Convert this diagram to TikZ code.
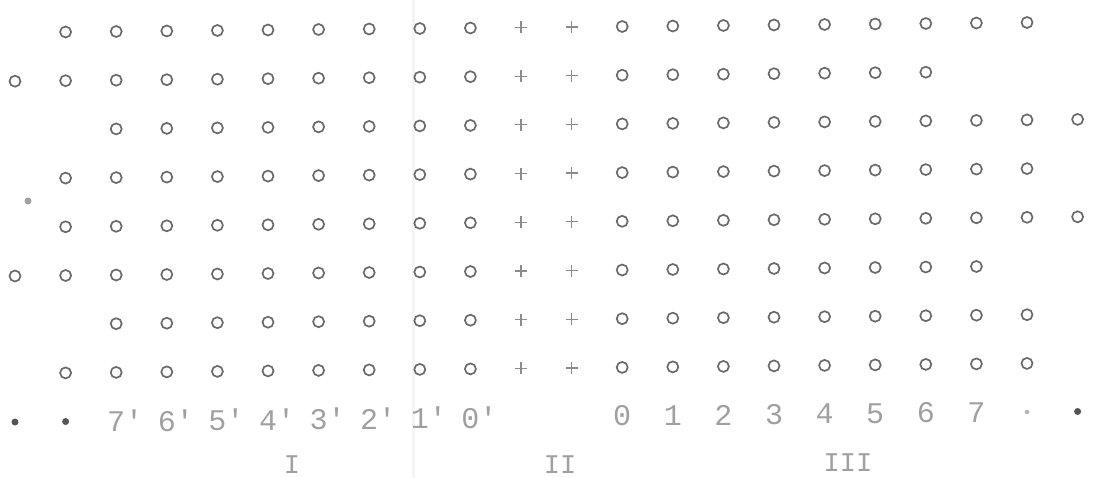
\documentclass[tikz,border=0pt]{standalone}
\usepackage{fontspec}
\setmonofont{Liberation Mono}
\definecolor{ringgray}{HTML}{6A6A6A}
\definecolor{plusgray}{HTML}{8C8C8C}
\definecolor{numgray}{HTML}{A0A0A0}
\definecolor{dotgray}{HTML}{555555}
\definecolor{foldgray}{HTML}{F4F4F4}
\tikzset{
  ring/.style={circle, draw=ringgray, line width=1.7pt, inner sep=0pt, minimum size=11pt},
  plusline/.style={draw=plusgray, line width=1.2pt},
  numtext/.style={text=numgray, font=\ttfamily\fontsize{30}{30}\selectfont, inner sep=0pt},
  romtext/.style={text=numgray, font=\ttfamily\fontsize{27}{27}\selectfont, inner sep=0pt},
  bigdot/.style={circle, fill=dotgray, inner sep=0pt, minimum size=7pt},
  smalldot/.style={circle, fill=numgray!80, inner sep=0pt, minimum size=4.5pt},
  smudge/.style={circle, fill=numgray, inner sep=0pt, minimum size=7pt},
}
\begin{document}
\begin{tikzpicture}[x=1pt, y=-1pt]
\useasboundingbox (0,0) rectangle (1094,478);
% faint fold line
\draw[foldgray, line width=3pt] (413,0) -- (413,478);
% grid of rings and plus signs
\foreach \r/\a/\b in {0/1/20, 1/0/18, 2/2/21, 3/1/20, 4/1/21, 5/0/19, 6/2/20, 7/1/20}{
  \foreach \k in {\a,...,9}{
    \pgfmathsetmacro{\x}{15+50.6*\k}
    \pgfmathsetmacro{\y}{32.5+48.7*\r-0.5*\k}
    \node[ring] (o-\r-\k) at (\x,\y) {};
  }
  \foreach \k in {10,11}{
    \pgfmathsetmacro{\x}{15+50.6*\k}
    \pgfmathsetmacro{\y}{32.5+48.7*\r-0.5*\k}
    \coordinate (p-\r-\k) at (\x,\y);
    \path[plusline] ([xshift=-6pt]p-\r-\k) -- ([xshift=6pt]p-\r-\k)
                    ([yshift=-6pt]p-\r-\k) -- ([yshift=6pt]p-\r-\k);
  }
  \foreach \k in {12,...,\b}{
    \pgfmathsetmacro{\x}{15+50.6*\k}
    \pgfmathsetmacro{\y}{32.5+48.7*\r-0.5*\k}
    \node[ring] (o-\r-\k) at (\x,\y) {};
  }
}
% smudge
\node[smudge] (smudge) at (28,201) {};
% number row
\foreach \k/\t in {2/7,3/6,4/5,5/4,6/3,7/2,8/1,9/0}{
  \pgfmathsetmacro{\x}{15+50.6*\k}
  \pgfmathsetmacro{\y}{32.5+48.7*8-0.5*\k}
  \node[numtext] (n-\k) at (\x,\y) {\t\rlap{'}};
}
\foreach \k/\t in {12/0,13/1,14/2,15/3,16/4,17/5,18/6,19/7}{
  \pgfmathsetmacro{\x}{15+50.6*\k}
  \pgfmathsetmacro{\y}{32.5+48.7*8-0.5*\k}
  \node[numtext] (n-\k) at (\x,\y) {\t};
}
\node[bigdot] (d0) at (15,422) {};
\node[bigdot] (d1) at (65.6,421.5) {};
\node[smalldot] (d20) at (1027,412) {};
\node[bigdot] (d21) at (1077.6,411.5) {};
% roman numerals
\node[romtext] (rI) at (292,465) {I};
\node[romtext] (rII) at (560,465) {II};
\node[romtext] (rIII) at (848,463) {III};
\end{tikzpicture}
\end{document}
